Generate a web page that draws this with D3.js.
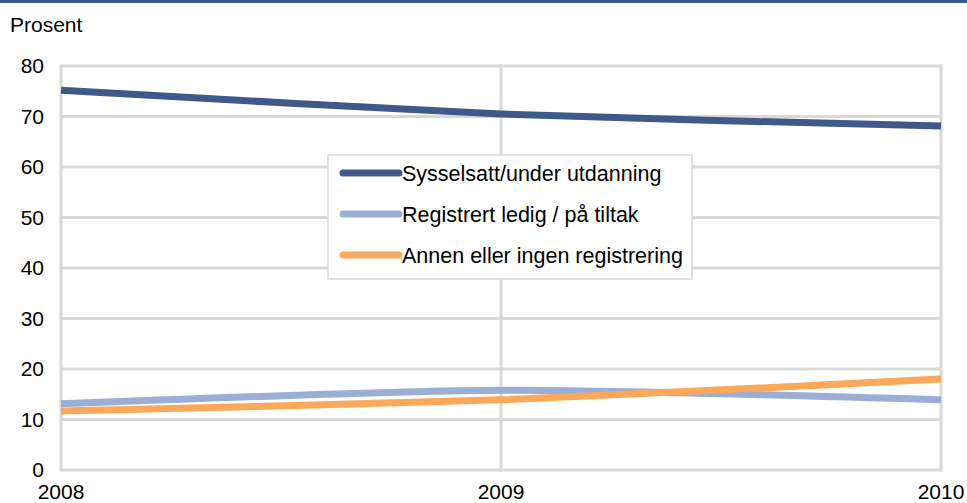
<!DOCTYPE html>
<html><head><meta charset="utf-8">
<script src="https://cdn.jsdelivr.net/npm/d3@7"></script>
<style>body{margin:0;background:#fff}svg{display:block;font-family:"Liberation Sans",Arial,sans-serif}</style>
</head><body>
<svg id="c" width="967" height="503"></svg>
<script>
const years = [2008, 2009, 2010];
const yTicks = [0, 10, 20, 30, 40, 50, 60, 70, 80];
const seriesNames = ["Sysselsatt/under utdanning", "Registrert ledig / på tiltak", "Annen eller ingen registrering"];
const sysselsatt = [75.2, 70.5, 68.1];
const registrert = [13.1, 15.8, 13.9];
const annen = [11.7, 13.9, 18.0];
const colors = ["#3f5a8a", "#9aaed6", "#fca85a"];
const yLabel = "Prosent";

const svg = d3.select("#c");
const W = 967, H = 503;
const m = {left: 61, right: 26, top: 66, bottom: 33};
const x = d3.scaleLinear().domain([2008, 2010]).range([m.left, W - m.right]);
const y = d3.scaleLinear().domain([0, 80]).range([H - m.bottom, m.top]);

svg.append("rect").attr("x", 0).attr("y", 0).attr("width", W).attr("height", 3).attr("fill", "#3f5a8a");

svg.append("text").attr("x", 10).attr("y", 32).attr("font-size", 21).attr("fill", "#000").text(yLabel);

const grid = "#d9d9d9";
svg.append("g").selectAll("line").data(yTicks).join("line")
  .attr("x1", x(2008)).attr("x2", x(2010))
  .attr("y1", d => y(d)).attr("y2", d => y(d))
  .attr("stroke", grid).attr("stroke-width", 3);
svg.append("g").selectAll("line").data(years).join("line")
  .attr("x1", d => x(d)).attr("x2", d => x(d))
  .attr("y1", y(80) - 1.5).attr("y2", y(0) + 1.5)
  .attr("stroke", grid).attr("stroke-width", 3);

svg.append("g").selectAll("text").data(yTicks).join("text")
  .attr("x", 44).attr("y", d => y(d)).attr("dy", "0.35em")
  .attr("text-anchor", "end").attr("font-size", 21).attr("fill", "#000")
  .text(d => d);
svg.append("g").selectAll("text").data(years).join("text")
  .attr("x", d => x(d)).attr("y", 499)
  .attr("text-anchor", "middle").attr("font-size", 21).attr("fill", "#000")
  .text(d => d);

const all = [sysselsatt, registrert, annen];
const line = d3.line().x((d, i) => x(years[i])).y(d => y(d)).curve(d3.curveCardinal.tension(0.3));
[1, 2, 0].forEach(k => {
  svg.append("path").datum(all[k]).attr("d", line)
    .attr("fill", "none").attr("stroke", colors[k]).attr("stroke-width", 7);
});

const lg = svg.append("g").attr("transform", "translate(328,155)");
lg.append("rect").attr("x", 0).attr("y", 0).attr("width", 364).attr("height", 124)
  .attr("fill", "#fff").attr("stroke", grid).attr("stroke-width", 1.5);
const items = lg.selectAll("g").data(seriesNames).join("g")
  .attr("transform", (d, i) => `translate(0,${18 + i * 41})`);
items.append("line").attr("x1", 15).attr("x2", 71).attr("y1", 0).attr("y2", 0)
  .attr("stroke", (d, i) => colors[i]).attr("stroke-width", 7).attr("stroke-linecap", "round");
items.append("text").attr("x", 74).attr("y", 0).attr("dy", "0.35em")
  .attr("font-size", 21.5).attr("fill", "#000").text(d => d);
</script>
</body></html>
